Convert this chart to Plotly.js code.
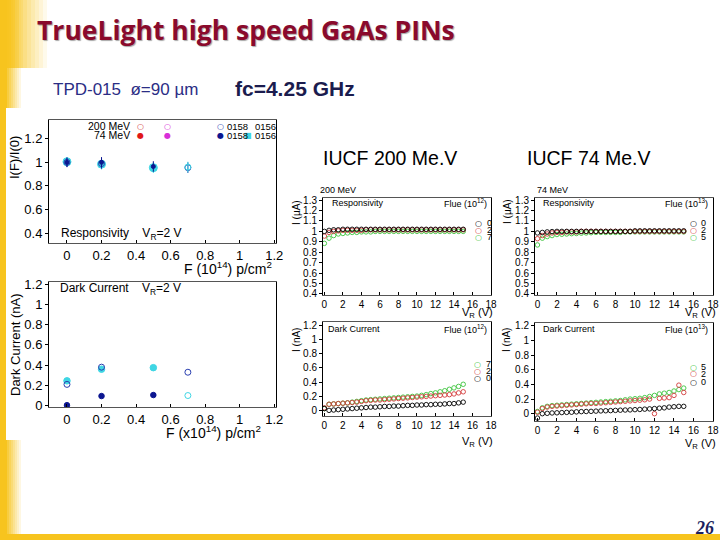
<!DOCTYPE html>
<html>
<head>
<meta charset="utf-8">
<script src="https://cdn.plot.ly/plotly-3.0.1.min.js"></script>
<style>
  html, body { margin: 0; padding: 0; background: #fff; }
  #chart { width: 720px; height: 540px; }
</style>
</head>
<body>
<div id="chart"></div>
<script>
// ---- left panels: fluence scan (F in 10^14 p/cm^2) ----
const res200_0158_F = [0, 0.2, 0.7]
const res200_0158 = [1.0, 0.99, 0.955]
const res200_0156_F = [0.7]
const res200_0156 = [0.96]
const res74_0158_F = [0, 0.2, 0.5]
const res74_0158 = [1.0, 1.0, 0.965]
const res74_0156_F = [0, 0.2, 0.5]
const res74_0156 = [1.005, 0.985, 0.955]
const resErr = [0.04, 0.045, 0.045]

const dark200_0158 = [0.21, 0.38, 0.33]
const dark200_0156 = [0.10]
const dark74_0158 = [0.005, 0.095, 0.105]
const dark74_0156 = [0.245, 0.36, 0.375]

const fluTicks = [0, 0.2, 0.4, 0.6, 0.8, 1, 1.2]

// ---- right panels: bias scan ----
const VR = [0, 0.5, 1, 1.5, 2, 2.5, 3, 3.5, 4, 4.5, 5, 5.5, 6, 6.5, 7, 7.5,
  8, 8.5, 9, 9.5, 10, 10.5, 11, 11.5, 12, 12.5, 13, 13.5, 14, 14.5, 15]

// 200 MeV responsivity, fluence 0 / 2 / 7 (10^12)
const r200_f0 = [1.0, 1.01, 1.015, 1.015, 1.02, 1.02, 1.02, 1.02, 1.02, 1.02, 1.02, 1.02, 1.02, 1.02, 1.02, 1.02,
  1.02, 1.02, 1.02, 1.02, 1.02, 1.02, 1.02, 1.02, 1.02, 1.02, 1.02, 1.02, 1.02, 1.02, 1.02]
const r200_f2 = [0.955, 0.99, 1.0, 1.005, 1.01, 1.01, 1.01, 1.01, 1.01, 1.015, 1.015, 1.015, 1.015, 1.015, 1.015, 1.015,
  1.015, 1.015, 1.015, 1.015, 1.015, 1.015, 1.015, 1.015, 1.015, 1.015, 1.015, 1.015, 1.015, 1.015, 1.015]
const r200_f7 = [0.885, 0.935, 0.96, 0.975, 0.98, 0.985, 0.99, 0.99, 0.995, 0.995, 0.995, 1.0, 1.0, 1.0, 1.0, 1.0,
  1.0, 1.0, 1.0, 1.0, 1.0, 1.0, 1.0, 1.0, 1.0, 1.0, 1.0, 1.0, 1.0, 1.0, 1.0]

// 200 MeV dark current (nA)
const d200_f0 = [0.03, 0.005, 0.01, 0.015, 0.02, 0.025, 0.03, 0.035, 0.04, 0.045, 0.05, 0.05, 0.055, 0.06, 0.06, 0.065,
  0.065, 0.07, 0.075, 0.075, 0.08, 0.08, 0.085, 0.085, 0.09, 0.09, 0.095, 0.1, 0.1, 0.11, 0.12]
const d200_f2 = [0.04, 0.09, 0.095, 0.1, 0.105, 0.11, 0.115, 0.12, 0.13, 0.14, 0.145, 0.15, 0.15, 0.155, 0.16, 0.165,
  0.17, 0.175, 0.18, 0.185, 0.19, 0.195, 0.2, 0.205, 0.21, 0.215, 0.22, 0.225, 0.235, 0.25, 0.265]
const d200_f7 = [0.03, 0.09, 0.095, 0.1, 0.105, 0.11, 0.12, 0.13, 0.14, 0.15, 0.155, 0.16, 0.165, 0.17, 0.175, 0.18,
  0.185, 0.19, 0.195, 0.2, 0.205, 0.215, 0.225, 0.24, 0.25, 0.265, 0.28, 0.3, 0.32, 0.34, 0.37]

// 74 MeV responsivity, fluence 0 / 2 / 5 (10^13)
const r74_f0 = [0.985, 0.99, 0.995, 0.998, 1.0, 1.0, 1.0, 1.0, 1.0, 1.0, 1.0, 1.0, 1.0, 1.0, 1.0, 1.0,
  1.0, 1.0, 1.0, 1.0, 1.005, 1.005, 1.005, 1.005, 1.005, 1.005, 1.005, 1.005, 1.005, 1.005, 1.005]
const r74_f2 = [0.93, 0.96, 0.975, 0.985, 0.99, 0.99, 0.995, 0.995, 0.995, 1.0, 1.0, 1.0, 1.0, 1.0, 1.0, 1.0,
  1.0, 1.0, 1.0, 1.0, 1.0, 1.0, 1.0, 1.0, 1.0, 1.0, 1.0, 1.0, 1.0, 1.0, 1.0]
const r74_f5 = [0.87, 0.935, 0.95, 0.96, 0.97, 0.972, 0.975, 0.978, 0.98, 0.983, 0.985, 0.987, 0.99, 0.99, 0.99, 0.99,
  0.99, 0.99, 0.995, 0.995, 0.995, 0.995, 0.995, 0.995, 0.995, 0.995, 0.995, 0.995, 0.995, 0.995, 0.995]

// 74 MeV dark current (nA)
const d74_f0 = [-0.06, 0.0, 0.005, 0.01, 0.012, 0.015, 0.018, 0.02, 0.025, 0.028, 0.03, 0.032, 0.035, 0.038, 0.04, 0.042,
  0.045, 0.048, 0.05, 0.052, 0.055, 0.058, 0.062, 0.066, 0.07, 0.075, 0.08, 0.09, 0.095, 0.1, 0.1]
const d74_f2 = [0.02, 0.07, 0.09, 0.1, 0.105, 0.11, 0.115, 0.12, 0.125, 0.13, 0.135, 0.14, 0.14, 0.145, 0.15, 0.155,
  0.16, 0.165, 0.17, 0.175, 0.18, 0.185, 0.19, 0.2, 0.0, 0.21, 0.215, 0.22, 0.25, 0.39, 0.29]
const d74_f5 = [0.03, 0.08, 0.1, 0.11, 0.115, 0.12, 0.125, 0.13, 0.135, 0.14, 0.145, 0.15, 0.155, 0.16, 0.165, 0.17,
  0.175, 0.18, 0.19, 0.2, 0.205, 0.21, 0.22, 0.235, 0.25, 0.27, 0.28, 0.29, 0.31, 0.33, 0.35]

const vTicks = [0, 2, 4, 6, 8, 10, 12, 14, 16, 18]

// pixel -> paper
const W = 720, H = 540
const px = (v) => v / W
const py = (v) => 1 - v / H

const FONT = "Liberation Sans, Arial, sans-serif"
const cBlack = "#000000", cRed = "#d23a3a", cGreen = "#3cc43c"
const cBlue = "#2a3fb0", cNavy = "#0b1690", cCyan = "#3fd6e4"

function axis(x0, x1, range, tickvals, size, anchor, lineCol, tickDir) {
  return {
    domain: [x0, x1], range: range, tickvals: tickvals, anchor: anchor,
    showline: true, mirror: true, linecolor: lineCol, linewidth: 1,
    ticks: tickDir, ticklen: 3, tickcolor: "#000",
    tickfont: { family: FONT, size: size, color: "#000" },
    showgrid: false, zeroline: false, fixedrange: true,
  }
}

function scan(x, y, color, xa, ya) {
  return {
    type: "scatter", mode: "markers", x: x, y: y, xaxis: xa, yaxis: ya,
    marker: { symbol: "circle-open", size: 4.5, color: color, line: { width: 0.9, color: color } },
    hoverinfo: "skip", showlegend: false,
  }
}

function flu(x, y, sym, color, size, xa, ya, err) {
  let t = {
    type: "scatter", mode: "markers", x: x, y: y, xaxis: xa, yaxis: ya,
    marker: { symbol: sym, size: size, color: color, line: { width: 1, color: color } },
    hoverinfo: "skip", showlegend: false,
  }
  if (err) t.error_y = { type: "data", array: err, color: color, thickness: 1, width: 0 }
  return t
}

var data = [
  // top-left responsivity
  flu(res74_0156_F, res74_0156, "circle", cCyan, 8, "x", "y", resErr),
  flu(res200_0158_F, res200_0158, "circle-open", cBlue, 6, "x", "y", resErr),
  flu(res74_0158_F, res74_0158, "circle", cNavy, 4, "x", "y", resErr),
  flu(res200_0156_F, res200_0156, "circle-open", cCyan, 6, "x", "y", [0.045]),
  // left dark current
  flu(res74_0156_F, dark74_0156, "circle", cCyan, 6.5, "x2", "y2"),
  flu(res200_0158_F, dark200_0158, "circle-open", cBlue, 6, "x2", "y2"),
  flu(res74_0158_F, dark74_0158, "circle", cNavy, 5.5, "x2", "y2"),
  flu(res200_0156_F, dark200_0156, "circle-open", cCyan, 6, "x2", "y2"),
  // 200 MeV
  scan(VR, r200_f7, cGreen, "x3", "y3"),
  scan(VR, r200_f2, cRed, "x3", "y3"),
  scan(VR, r200_f0, cBlack, "x3", "y3"),
  scan(VR, d200_f7, cGreen, "x4", "y4"),
  scan(VR, d200_f2, cRed, "x4", "y4"),
  scan(VR, d200_f0, cBlack, "x4", "y4"),
  // 74 MeV
  scan(VR, r74_f5, cGreen, "x5", "y5"),
  scan(VR, r74_f2, cRed, "x5", "y5"),
  scan(VR, r74_f0, cBlack, "x5", "y5"),
  scan(VR, d74_f5, cGreen, "x6", "y6"),
  scan(VR, d74_f2, cRed, "x6", "y6"),
  scan(VR, d74_f0, cBlack, "x6", "y6"),
]

// annotations
function note(x, y, text, size, extra) {
  return Object.assign({
    xref: "paper", yref: "paper", x: px(x), y: py(y), text: text, showarrow: false,
    xanchor: "left", yanchor: "middle",
    font: { family: FONT, size: size, color: "#000" },
  }, extra || {})
}
function vnote(x, y, text, size) {
  return note(x, y, text, size, { textangle: -90, xanchor: "center" })
}
function dot(x, y, glyph, color, size) {
  return note(x, y, glyph, size, { xanchor: "center", font: { family: "DejaVu Sans, sans-serif", size: size, color: color } })
}

var ann = [
  note(35, 30, "<b>TrueLight high speed GaAs PINs</b>", 26.5, {
    font: { family: "Open Sans, sans-serif", size: 26.5, color: "#8a0a2c", shadow: "1px 1px 1px rgba(0,0,0,0.35)" },
  }),
  note(51, 90, "TPD-015  ø=90 µm", 17, { font: { family: FONT, size: 17, color: "#2b2d85" } }),
  note(233, 89, "<b>fc=4.25 GHz</b>", 21, { font: { family: FONT, size: 21, color: "#1b1c4e" } }),
  note(321, 158, "IUCF 200 Me.V", 19.5),
  note(525, 158, "IUCF 74 Me.V", 19.5),
  note(704, 528, "<b><i>26</i></b>", 18, { xanchor: "center", font: { family: "Liberation Serif, serif", size: 18, color: "#1c1f5e" } }),

  // left panels
  vnote(15, 158, "I(F)/I(0)", 13),
  vnote(15, 345, "Dark Current (nA)", 13),
  note(228, 268, "F (10<sup>14</sup>) p/cm<sup>2</sup>", 14, { xanchor: "center" }),
  note(213, 432, "F (x10<sup>14</sup>) p/cm<sup>2</sup>", 14, { xanchor: "center" }),
  note(59, 234, "Responsivity    V<sub>R</sub>=2 V", 12),
  note(58, 289, "Dark Current    V<sub>R</sub>=2 V", 12),
  note(132, 126, "200 MeV", 10.5, { xanchor: "right" }),
  note(132, 135, "74 MeV", 10.5, { xanchor: "right" }),
  dot(140, 126, "○", cRed, 8),
  dot(167, 126, "○", "#d82fd8", 8),
  dot(220, 126, "○", cBlue, 8),
  dot(140, 135, "●", "#e01818", 8),
  dot(167, 135, "●", "#d82fd8", 8),
  dot(220, 135, "●", cNavy, 8),
  dot(248, 135, "■", cCyan, 8),
  note(225, 126, "0158", 9.5),
  note(253, 126, "0156", 9.5),
  note(225, 135, "0158", 9.5),
  note(253, 135, "0156", 9.5),

  // 200 MeV panels
  note(318, 190, "200 MeV", 9),
  note(330, 203, "Responsivity", 9),
  note(489, 203, "Flue (10<sup>12</sup>)", 9, { xanchor: "right" }),
  vnote(297, 213, "I (µA)", 10),
  dot(478, 223, "○", cBlack, 8),
  dot(478, 230, "○", cRed, 8),
  dot(478, 237, "○", cGreen, 8),
  note(485, 223, "0", 9), note(485, 230, "2", 9), note(485, 237, "7", 9),
  note(477, 313, "V<sub>R</sub> (V)", 11, { xanchor: "center" }),

  note(326, 329, "Dark Current", 9),
  note(489, 329, "Flue (10<sup>12</sup>)", 9, { xanchor: "right" }),
  vnote(296, 340, "I (nA)", 10),
  dot(477, 364, "○", cGreen, 8),
  dot(477, 371, "○", cRed, 8),
  dot(477, 378, "○", cBlack, 8),
  note(484, 364, "7", 9), note(484, 371, "2", 9), note(484, 378, "0", 9),
  note(477, 442, "V<sub>R</sub> (V)", 11, { xanchor: "center" }),

  // 74 MeV panels
  note(535, 190, "74 MeV", 9),
  note(541, 203, "Responsivity", 9),
  note(710, 203, "Flue (10<sup>13</sup>)", 9, { xanchor: "right" }),
  vnote(507, 212, "I (µA)", 10),
  dot(693, 223, "○", cBlack, 8),
  dot(693, 230, "○", cRed, 8),
  dot(693, 237, "○", cGreen, 8),
  note(699, 223, "0", 9), note(699, 230, "2", 9), note(699, 237, "5", 9),
  note(700, 313, "V<sub>R</sub> (V)", 11, { xanchor: "center" }),

  note(541, 329, "Dark Current", 9),
  note(710, 329, "Flue (10<sup>13</sup>)", 9, { xanchor: "right" }),
  vnote(506, 340, "I (nA)", 10),
  dot(693, 367, "○", cGreen, 8),
  dot(693, 374, "○", cRed, 8),
  dot(693, 382, "○", cBlack, 8),
  note(699, 367, "5", 9), note(699, 374, "2", 9), note(699, 382, "0", 9),
  note(700, 444, "V<sub>R</sub> (V)", 11, { xanchor: "center" }),
]

// slide decoration: yellow bars and fades
const yellow = "247,196,30"
var shapes = []
function rect(x0, y0, x1, y1, a) {
  shapes.push({
    type: "rect", xref: "paper", yref: "paper", layer: "below",
    x0: px(x0), x1: px(x1), y0: py(y1), y1: py(y0),
    fillcolor: `rgba(${yellow},${a})`, line: { width: 0 },
  })
}
rect(0, 0, 7, 540, 1)
for (let i = 0; i < 7; i++) rect(7 + i * 2, 0, 9 + i * 2, 540, 0.85 - i * 0.12)
for (let i = 0; i < 10; i++) rect(7 + i * 4, 0, 11 + i * 4, 68, 0.9 - i * 0.09)
rect(0, 534, 720, 540, 1)
// white box behind the left figure
shapes.push({
  type: "rect", xref: "paper", yref: "paper", layer: "below",
  x0: px(6), x1: px(300), y0: py(440), y1: py(108),
  fillcolor: "#ffffff", line: { width: 0 },
})

var layout = {
  width: 720, height: 540,
  margin: { l: 0, r: 0, t: 0, b: 0 },
  paper_bgcolor: "#ffffff", plot_bgcolor: "rgba(0,0,0,0)",
  showlegend: false,
  font: { family: FONT },
  xaxis: axis(px(49), px(276), [-0.104, 1.21], fluTicks, 13, "y", "#555", "inside"),
  yaxis: axis(py(243), py(120), [0.315, 1.36], [0.4, 0.6, 0.8, 1, 1.2], 13, "x", "#000", "outside"),
  xaxis2: axis(px(49), px(276), [-0.104, 1.21], fluTicks, 13, "y2", "#555", "inside"),
  yaxis2: axis(py(407), py(282), [-0.013, 1.22], [0, 0.2, 0.4, 0.6, 0.8, 1, 1.2], 13, "x2", "#000", "outside"),
  xaxis3: axis(px(323), px(491), [-0.15, 18], vTicks, 10, "y3", "#555", "inside"),
  yaxis3: axis(py(295), py(198), [0.39, 1.32], [0.4, 0.5, 0.6, 0.7, 0.8, 0.9, 1, 1.1, 1.2, 1.3], 10, "x3", "#000", "outside"),
  xaxis4: axis(px(323), px(491), [-0.15, 18], vTicks, 10, "y4", "#555", "inside"),
  yaxis4: axis(py(416), py(322), [-0.074, 1.242], [0, 0.2, 0.4, 0.6, 0.8, 1, 1.2], 10, "x4", "#000", "outside"),
  xaxis5: axis(px(535), px(713), [-0.25, 18], vTicks, 10, "y5", "#555", "inside"),
  yaxis5: axis(py(295), py(198), [0.39, 1.32], [0.4, 0.5, 0.6, 0.7, 0.8, 0.9, 1, 1.1, 1.2, 1.3], 10, "x5", "#000", "outside"),
  xaxis6: axis(px(535), px(713), [-0.25, 18], vTicks, 10, "y6", "#555", "inside"),
  yaxis6: axis(py(421), py(323), [-0.1, 1.24], [0, 0.2, 0.4, 0.6, 0.8, 1, 1.2], 10, "x6", "#000", "outside"),
  annotations: ann,
  shapes: shapes,
}

Plotly.newPlot("chart", data, layout, { displayModeBar: false, staticPlot: true })
</script>
</body>
</html>
